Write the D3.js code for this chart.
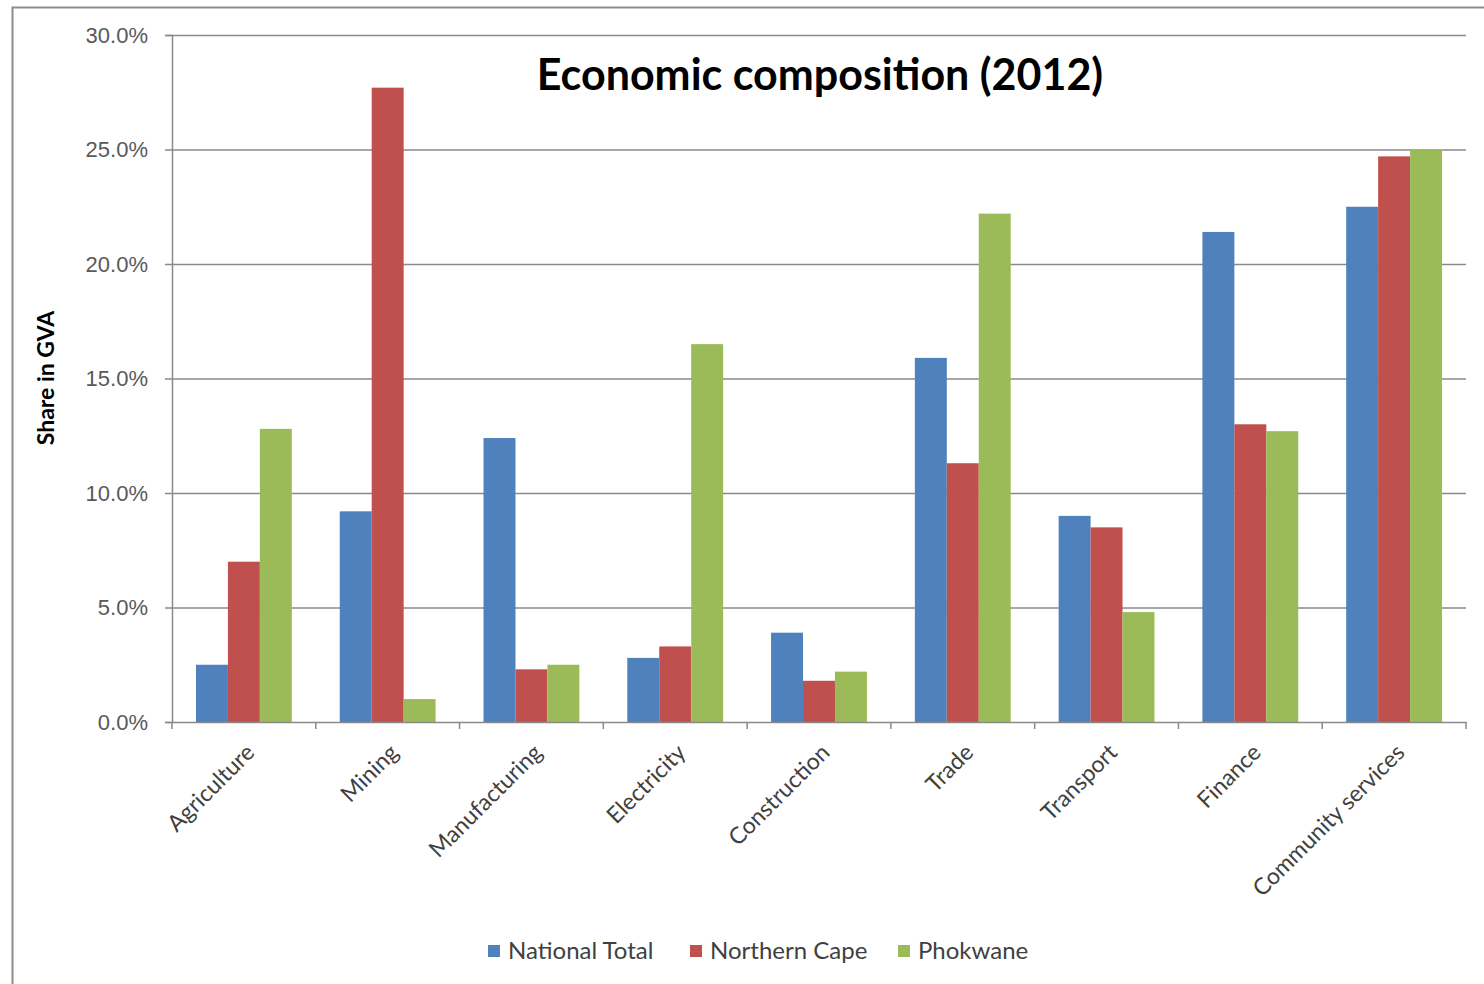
<!DOCTYPE html>
<html>
<head>
<meta charset="utf-8">
<script src="https://d3js.org/d3.v7.min.js"></script>
<style>
body {margin:0; background:white;}
svg {display:block; font-family: Lato, "Open Sans", sans-serif;}
</style>
</head>
<body>
<svg id="chart" width="1484" height="984"></svg>
<script>
// data
var categories = ["Agriculture", "Mining", "Manufacturing", "Electricity", "Construction", "Trade", "Transport", "Finance", "Community services"];
var seriesNames = ["National Total", "Northern Cape", "Phokwane"];
var nationalTotal = [2.5, 9.2, 12.4, 2.8, 3.9, 15.9, 9.0, 21.4, 22.5];
var northernCape = [7.0, 27.7, 2.3, 3.3, 1.8, 11.3, 8.5, 13.0, 24.7];
var phokwane = [12.8, 1.0, 2.5, 16.5, 2.2, 22.2, 4.8, 12.7, 25.0];
var yTicks = [0, 5, 10, 15, 20, 25, 30];
var colors = ["#4F81BD", "#C0504D", "#9BBB59"];

var svg = d3.select("#chart");
var leftmargin = 172, upmargin = 35;
var width = 1466 - leftmargin, height = 722 - upmargin;

// outer chart border
svg.append("rect")
  .attr("x", 12.5).attr("y", 7.5)
  .attr("width", 1500).attr("height", 1000)
  .attr("fill", "white").attr("stroke", "#8c8c8c").attr("stroke-width", 2);

var x = d3.scaleBand().domain(categories).range([0, width]).paddingInner(0).paddingOuter(0);
var x1 = d3.scaleBand().domain(seriesNames).range([x.bandwidth() / 6, x.bandwidth() * 5 / 6]);
var y = d3.scaleLinear().domain([0, 30]).range([height, 0]);
var color = d3.scaleOrdinal().domain(seriesNames).range(colors);

var g = svg.append("g").attr("transform", "translate(" + leftmargin + "," + upmargin + ")");

// gridlines
g.append("g")
  .selectAll("line")
  .data(yTicks.slice(1))
  .enter().append("line")
  .attr("x1", 0).attr("x2", width)
  .attr("y1", function(d) { return y(d) + 0.5; })
  .attr("y2", function(d) { return y(d) + 0.5; })
  .attr("stroke", "#8a8a8a").attr("stroke-width", 1.5);

var rows = categories.map(function(c, i) {
  return {cat: c, vals: [nationalTotal[i], northernCape[i], phokwane[i]]};
});

g.selectAll(".grp")
  .data(rows)
  .enter().append("g")
  .attr("transform", function(d) { return "translate(" + x(d.cat) + ",0)"; })
  .selectAll("rect")
  .data(function(d) { return d.vals.map(function(v, i) { return {name: seriesNames[i], v: v}; }); })
  .enter().append("rect")
  .attr("x", function(d) { return x1(d.name); })
  .attr("width", x1.bandwidth())
  .attr("y", function(d) { return y(d.v); })
  .attr("height", function(d) { return height - y(d.v); })
  .attr("fill", function(d) { return color(d.name); });

// y axis
var y_axis = d3.axisLeft(y).tickValues(yTicks).tickSize(7).tickPadding(17)
  .tickFormat(function(d) { return d.toFixed(1) + "%"; });
var ya = g.append("g").call(y_axis);
ya.select(".domain").attr("stroke", "#8a8a8a").attr("stroke-width", 1.5);
ya.selectAll(".tick line").attr("stroke", "#8a8a8a").attr("stroke-width", 1.5);
ya.selectAll("text").attr("fill", "#595959").style("font-size", "22px");

// x axis
var xa = g.append("g").attr("transform", "translate(0," + height + ")")
  .call(d3.axisBottom(x).tickSize(0).tickFormat(""));
xa.select(".domain").attr("stroke", "#8a8a8a").attr("stroke-width", 1.5);
xa.selectAll(".tick").remove();
xa.selectAll(".sep")
  .data(d3.range(categories.length + 1))
  .enter().append("line")
  .attr("x1", function(i) { return i * x.bandwidth(); })
  .attr("x2", function(i) { return i * x.bandwidth(); })
  .attr("y1", 0).attr("y2", 7)
  .attr("stroke", "#8a8a8a").attr("stroke-width", 1.5);

g.selectAll(".xlab")
  .data(categories)
  .enter().append("text")
  .attr("transform", function(d) {
    return "translate(" + (x(d) + x.bandwidth() / 2 + 12) + "," + (height + 32) + ") rotate(-45)";
  })
  .attr("text-anchor", "end")
  .attr("fill", "#404040")
  .style("font-size", "23px")
  .text(function(d) { return d; });

// title
svg.append("text")
  .attr("x", 820).attr("y", 90)
  .attr("text-anchor", "middle")
  .style("font-size", "43px").style("font-weight", "bold")
  .attr("fill", "#000")
  .text("Economic composition (2012)");

// y label
svg.append("text")
  .attr("transform", "translate(54," + 378 + ") rotate(-90)")
  .attr("text-anchor", "middle")
  .style("font-size", "23px").style("font-weight", "bold")
  .attr("fill", "#000")
  .text("Share in GVA");

// legend
var legendX = [488, 690, 898];
var lg = svg.append("g").selectAll("g")
  .data(seriesNames)
  .enter().append("g")
  .attr("transform", function(d, i) { return "translate(" + legendX[i] + ",945)"; });
lg.append("rect").attr("width", 12).attr("height", 12)
  .attr("fill", function(d) { return color(d); });
lg.append("text").attr("x", 20).attr("y", 14)
  .style("font-size", "24px").attr("fill", "#404040")
  .text(function(d) { return d; });
</script>
</body>
</html>
